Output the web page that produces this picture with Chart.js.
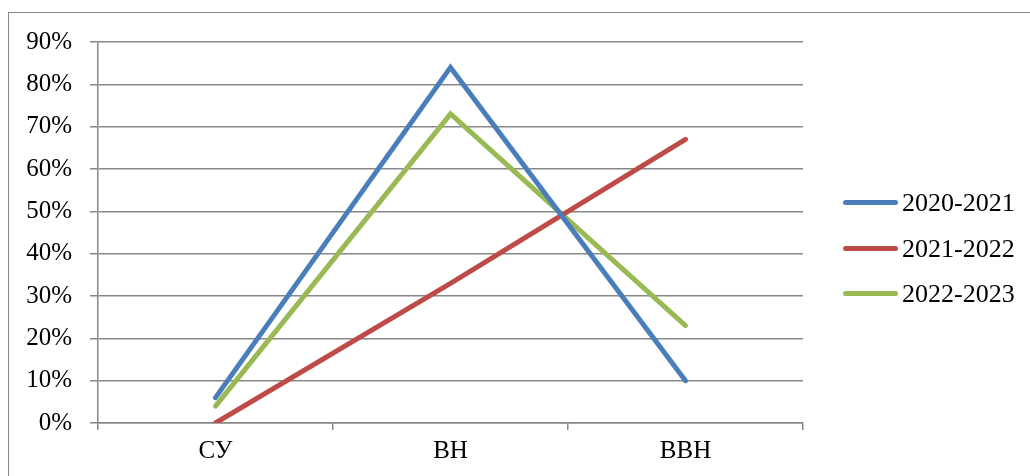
<!DOCTYPE html>
<html>
<head>
  <meta charset="utf-8">
  <script src="https://cdn.jsdelivr.net/npm/chart.js"></script>
  <style>
    body { margin: 0; background: #ffffff; }
    #wrap { position: relative; width: 1030px; height: 476px; overflow: hidden; }
    #frame {
      position: absolute; left: 8px; top: 12px;
      width: 1100px; height: 500px;
      border: 1px solid #878787;
    }
    #myChart { position: absolute; left: 0; top: 0; }
    #legend {
      position: absolute; left: 843px; top: 180px;
      font-family: "Liberation Serif", "Times New Roman", serif;
      font-size: 26px; color: #000;
    }
    .item { display: flex; align-items: center; height: 45.5px; line-height: 45.5px; }
    .swatch { width: 55px; height: 5px; border-radius: 3px; margin-right: 4px; }
  </style>
</head>
<body>
  <div id="wrap">
    <div id="frame"></div>
    <canvas id="myChart" width="1030" height="476"></canvas>
    <div id="legend"></div>
  </div>

  <script>
    // данные с графика
    const categories = ['СУ', 'ВН', 'ВВН'];
    const seriesNames = ['2020-2021', '2021-2022', '2022-2023'];
    const values2020 = [6, 84, 10];
    const values2021 = [0, 33, 67];
    const values2022 = [4, 73, 23];
    const seriesColors = ['#4A7EBB', '#BE4B48', '#98B954'];
    const yMax = 90;
    const yStep = 10;

    const seriesValues = [values2020, values2021, values2022];
    const gridColor = '#878787';

    const datasets = seriesNames.map((name, i) => ({
      label: name,
      data: seriesValues[i],
      borderColor: seriesColors[i],
      backgroundColor: seriesColors[i],
      borderWidth: 5,
      borderCapStyle: 'round',
      borderJoinStyle: 'miter',
      pointRadius: 0,
      tension: 0,
      fill: false
    }));

    const tickFont = { family: '"Liberation Serif", "Times New Roman", serif', size: 25 };

    const ctx = document.getElementById('myChart').getContext('2d');
    new Chart(ctx, {
      type: 'line',
      data: { labels: categories, datasets: datasets },
      options: {
        responsive: false,
        animation: false,
        layout: { padding: { left: 0, top: 42, right: 227, bottom: 0 } },
        plugins: { legend: { display: false }, tooltip: { enabled: false } },
        scales: {
          x: {
            offset: true,
            grid: {
              offset: true,
              drawOnChartArea: false,
              drawTicks: true,
              tickLength: 7,
              color: gridColor,
              lineWidth: 1.5
            },
            border: { color: gridColor, width: 1.5 },
            ticks: { color: '#000', font: tickFont, padding: 6 },
            afterFit: (scale) => { scale.height = 53; }
          },
          y: {
            min: 0,
            max: yMax,
            ticks: {
              stepSize: yStep,
              color: '#000',
              font: tickFont,
              padding: 18,
              callback: (v) => v + '%'
            },
            grid: { color: gridColor, lineWidth: 1.5, tickLength: 8 },
            border: { color: gridColor, width: 1.5 },
            afterFit: (scale) => { scale.width = 98; }
          }
        }
      }
    });

    // легенда справа
    const legend = document.getElementById('legend');
    seriesNames.forEach((name, i) => {
      const row = document.createElement('div');
      row.className = 'item';
      const sw = document.createElement('span');
      sw.className = 'swatch';
      sw.style.background = seriesColors[i];
      const txt = document.createElement('span');
      txt.textContent = name;
      row.appendChild(sw);
      row.appendChild(txt);
      legend.appendChild(row);
    });
  </script>
</body>
</html>
